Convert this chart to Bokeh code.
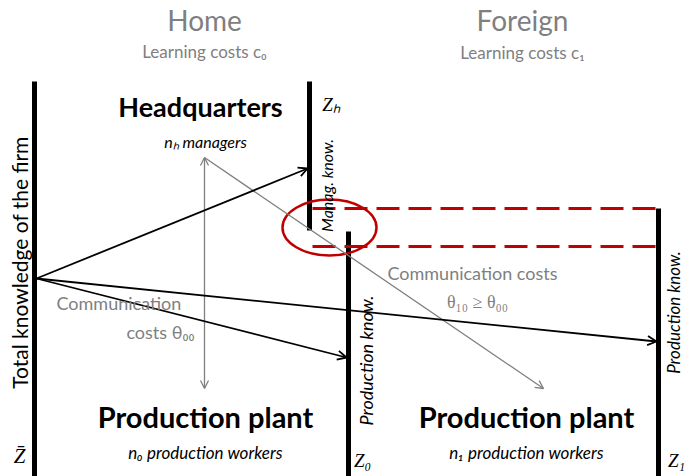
from bokeh.plotting import figure
from bokeh.models import Range1d, Arrow, OpenHead, Label
from bokeh.embed import file_html
from bokeh.resources import INLINE
import math

# Knowledge bars: x position, top, bottom
bar_names = ["firm", "headquarters", "home_plant", "foreign_plant"]
bar_x = [34, 309, 348, 658]
bar_top = [81, 81, 231, 208]
bar_bottom = [476, 230, 476, 476]

# Red dashed levels (management knowledge range transferred abroad)
dash_y = [208, 246]
dash_x0 = [312, 312]
dash_x1 = [657, 657]

# Black knowledge arrows from total knowledge point
origin = (36, 278)
arrow_tx = [307, 346, 656]
arrow_ty = [168, 357, 341]

# Gray communication arrows
gray_start = (204, 157)
gray_vert_end = (204, 388)
gray_diag_end = (543, 388)

GRAY = "#7f7f7f"
RED = "#c00000"
FONT = "Lato"

p = figure(width=688, height=476, output_backend="svg", toolbar_location=None,
           x_range=Range1d(0, 688), y_range=Range1d(476, 0), min_border=0)
p.axis.visible = False
p.grid.visible = False
p.outline_line_color = None
p.background_fill_color = "white"
p.border_fill_color = "white"

# gray arrows
p.add_layout(Arrow(x_start=gray_start[0], y_start=gray_start[1], x_end=gray_vert_end[0], y_end=gray_vert_end[1],
                   line_color=GRAY, line_width=1.3,
                   start=OpenHead(size=8, line_color=GRAY, line_width=1.3),
                   end=OpenHead(size=8, line_color=GRAY, line_width=1.3)))
p.add_layout(Arrow(x_start=gray_start[0], y_start=gray_start[1], x_end=gray_diag_end[0], y_end=gray_diag_end[1],
                   line_color=GRAY, line_width=1.3,
                   end=OpenHead(size=8, line_color=GRAY, line_width=1.3)))

# black arrows
for tx, ty in zip(arrow_tx, arrow_ty):
    p.add_layout(Arrow(x_start=origin[0], y_start=origin[1], x_end=tx, y_end=ty,
                       line_color="black", line_width=1.8,
                       end=OpenHead(size=9, line_color="black", line_width=1.8)))

# bars
p.segment(x0=bar_x, y0=bar_top, x1=bar_x, y1=bar_bottom, line_color="black", line_width=5)

# dashed lines
p.segment(x0=dash_x0, y0=dash_y, x1=dash_x1, y1=dash_y, line_color=RED, line_width=3, line_dash="23 9")

# ellipse
p.ellipse(x=[329], y=[227], width=[94], height=[56], fill_alpha=0, line_color=RED, line_width=2.5)

def lab(x, y, text, size, color="black", style="normal", font=FONT, align="center", angle=0, baseline="middle"):
    p.add_layout(Label(x=x, y=y, text=text, text_font_size=f"{size}px", text_color=color,
                       text_font_style=style, text_font=font, text_align=align,
                       text_baseline=baseline, angle=angle))

lab(204, 19, "Home", 28, GRAY)
lab(204, 51, "Learning costs c₀", 17, GRAY)
lab(522, 19, "Foreign", 28, GRAY)
lab(522, 52, "Learning costs c₁", 17, GRAY)

lab(200, 106, "Headquarters", 27, style="bold")
lab(205, 141, "nₕ managers", 16, style="italic")
lab(205, 416, "Production plant", 29, style="bold")
lab(205, 452, "n₀ production workers", 17, style="italic")
lab(526, 416, "Production plant", 29, style="bold")
lab(526, 452, "n₁ production workers", 17, style="italic")

lab(56, 302, "Communication", 18, GRAY, align="left")
lab(194, 331, "costs θ₀₀", 18, GRAY, align="right")
lab(472, 272, "Communication costs", 18, GRAY)
lab(477, 301, "θ₁₀ ≥ θ₀₀", 18, GRAY, font="Liberation Serif")

lab(19, 262, "Total knowledge of the firm", 21, angle=math.pi / 2)
lab(326, 185, "Manag. know.", 16, style="italic", angle=math.pi / 2)
lab(365, 360, "Production know.", 18, style="italic", angle=math.pi / 2)
lab(673, 312, "Production know.", 17, style="italic", angle=math.pi / 2)

lab(331, 104, "Zₕ", 19, style="italic", font="Liberation Serif")
lab(362, 460, "Z₀", 19, style="italic", font="Liberation Serif")
lab(676, 460, "Z₁", 19, style="italic", font="Liberation Serif")
lab(19, 455, "Z\u0304", 21, style="italic", font="Liberation Serif")

open("out.html", "w").write(file_html(p, INLINE))
